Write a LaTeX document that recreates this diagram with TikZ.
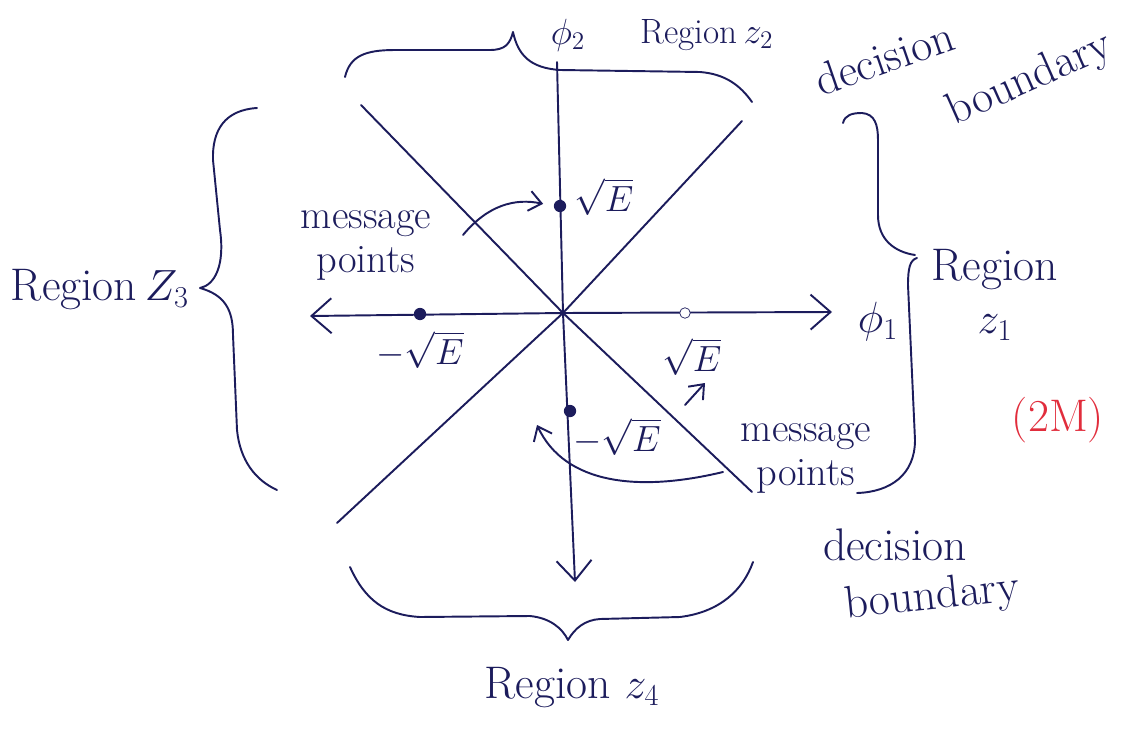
\documentclass[tikz,border=0pt]{standalone}
\definecolor{ink}{RGB}{28, 28, 92}
\definecolor{markred}{RGB}{225, 45, 60}
\usepackage{tikz}
\usetikzlibrary{arrows.meta, positioning}

\begin{document}
\begin{tikzpicture}[
        x=0.02cm, y=-0.02cm,
        inkline/.style={draw=ink, line width=1.1pt, line cap=round, line join=round},
        axis/.style={inkline, -{Straight Barb[length=4mm, width=7mm]}},
        pointer/.style={inkline, -{Straight Barb[length=2.5mm, width=4mm]}},
        msgpt/.style={circle, fill=ink, inner sep=0pt, minimum size=7pt},
        lbl/.style={text=ink, inner sep=1pt, font=\fontsize{20}{24}\selectfont},
        msglbl/.style={lbl, font=\fontsize{23}{25}\selectfont},
        biglbl/.style={lbl, font=\fontsize{26}{30}\selectfont}
      ]
        \useasboundingbox (0,0) rectangle (1123,730);
        % axes and decision boundaries
        \coordinate (o)  at (563,313);
        \coordinate (xl) at (310,316);
        \coordinate (xr) at (832,312);
        \coordinate (yt) at (557,62);
        \coordinate (yb) at (575,582);
        \coordinate (nw) at (361,105);
        \coordinate (se) at (752,492);
        \coordinate (ne) at (742,121);
        \coordinate (sw) at (337,523);
        \draw[axis] (o) -- (xl);
        \draw[axis] (o) -- (xr);
        \draw[inkline] (o) -- (yt);
        \draw[axis] (o) -- (yb);
        \draw[inkline] (nw) -- (o) -- (se);
        \draw[inkline] (ne) -- (o) -- (sw);
        % message points
        \node[msgpt] (p1) at (685,313) [draw=ink, fill=white, minimum size=6pt] {};
        \node[msgpt] (p2) at (560,206) {};
        \node[msgpt] (p3) at (420,314) {};
        \node[msgpt] (p4) at (570,411) {};
        \node[lbl] (p1lab) at (692,357) {$\sqrt{E}$};
        \node[lbl] (p2lab) at (604,197) {$\sqrt{E}$};
        \node[lbl] (p3lab) at (420,350) {$-\sqrt{E}$};
        \node[lbl] (p4lab) at (617,437) {$-\sqrt{E}$};
        % axis and region labels
        \node[biglbl] (phi1) at (878,322) {$\phi_1$};
        \node[lbl]    (phi2) at (568,35)  {$\phi_2$};
        \node[lbl]    (z2)   at (707,35)  {Region\,$z_2$};
        \node[biglbl] (z3)   at (100,290) {Region\,$Z_3$};
        \node[biglbl, align=center] (z1) at (995,295) {Region\\$z_1$};
        \node[biglbl] (z4)   at (572,688) {Region $z_4$};
        \node[msglbl, align=center] (msgl) at (366,245) {message\\points};
        \node[msglbl, align=center] (msgr) at (806,458) {message\\points};
        \node[biglbl, rotate=19] (db1) at (884,58)  {decision};
        \node[biglbl, rotate=24] (db2) at (1030,80) {boundary};
        \node[biglbl]            (db3) at (895,545) {decision};
        \node[biglbl, rotate=6]  (db4) at (932,598) {boundary};
        \node[biglbl, text=markred] (marks) at (1058,420) {(2M)};
        % pointers to the message points
        \coordinate (a1) at (463,235);
        \coordinate (a2) at (723,472);
        \coordinate (a2e) at (537,425);
        \coordinate (a3) at (685,405);
        \coordinate (a3e) at (705,383);
        \draw[pointer, shorten >=6pt] (a1) .. controls (488,205) and (515,198) .. (p2.west);
        \draw[pointer] (a2) .. controls (640,492) and (565,485) .. (a2e);
        \draw[pointer] (a3) -- (a3e);
        % braces
        \draw[inkline] (345,77) .. controls (350,56) and (365,50) .. (395,50)
              -- (490,50) .. controls (505,50) and (510,44) .. (513,32)
              .. controls (518,55) and (530,68) .. (560,70)
              -- (700,72) .. controls (725,74) and (740,85) .. (752,102);
        \draw[inkline] (257,108) .. controls (225,110) and (212,130) .. (213,160)
              -- (220,230) .. controls (225,265) and (215,285) .. (200,288)
              .. controls (225,295) and (233,310) .. (233,335)
              -- (237,430) .. controls (240,460) and (255,480) .. (277,490);
        \draw[inkline] (843,123) .. controls (845,115) and (852,113) .. (862,113)
              .. controls (875,114) and (878,125) .. (878,140)
              -- (878,215) .. controls (878,240) and (895,252) .. (915,255);
        \draw[inkline] (917,258) .. controls (910,260) and (908,268) .. (908,285)
              -- (915,440) .. controls (915,475) and (890,492) .. (857,493);
        \draw[inkline] (350,567) .. controls (365,600) and (385,615) .. (420,617)
              -- (530,616) .. controls (550,618) and (562,628) .. (568,640)
              .. controls (575,628) and (585,620) .. (600,619)
              -- (680,617) .. controls (720,612) and (743,590) .. (753,562);
      \end{tikzpicture}
\end{document}
